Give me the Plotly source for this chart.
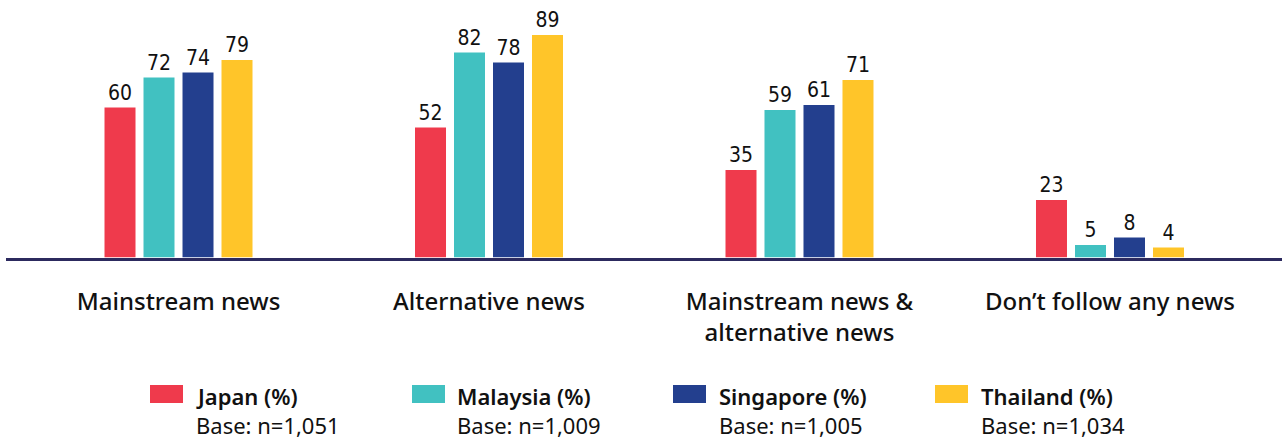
import plotly.graph_objects as go

# Survey categories (x axis) and share of respondents per country (%)
categories = ["Mainstream news", "Alternative news",
              "Mainstream news &<br>alternative news", "Don’t follow any news"]
countries = ["Japan (%)", "Malaysia (%)", "Singapore (%)", "Thailand (%)"]
bases = ["Base: n=1,051", "Base: n=1,009", "Base: n=1,005", "Base: n=1,034"]
japan = [60, 52, 35, 23]
malaysia = [72, 82, 59, 5]
singapore = [74, 78, 61, 8]
thailand = [79, 89, 71, 4]

series = [japan, malaysia, singapore, thailand]
colors = ["#EF3A4C", "#41C1C1", "#233F8E", "#FFC529"]

W, H = 1282, 439
AXIS_Y = 257.5  # pixel row of the baseline

fig = go.Figure()
for name, vals, col in zip(countries, series, colors):
    fig.add_trace(go.Bar(
        x=categories, y=vals, name=name, marker_color=col,
        marker_line_width=0,
        text=[str(v) for v in vals], textposition="outside",
        textfont=dict(family="Liberation Sans Narrow, DejaVu Sans Condensed, sans-serif",
                      size=21, color="#111111"),
        cliponaxis=False, showlegend=False,
    ))

# Custom legend: swatch + name line + base line per country
sw_x = [150, 412, 673, 935]
tx_x = [195, 456, 718, 980]
legend_font = dict(family="Noto Sans", size=22, color="#111111")
for sx, tx, name, base, col in zip(sw_x, tx_x, countries, bases, colors):
    fig.add_shape(type="rect", xref="paper", yref="paper",
                  x0=sx / W, x1=(sx + 33) / W,
                  y0=1 - 403 / H, y1=1 - 385 / H,
                  fillcolor=col, line_width=0)
    fig.add_annotation(xref="paper", yref="paper", x=tx / W, y=1 - 396 / H,
                       xanchor="left", yanchor="middle", align="left",
                       showarrow=False, borderpad=0,
                       text=f"<span style='font-weight:600'>{name}</span>",
                       font=legend_font)
    fig.add_annotation(xref="paper", yref="paper", x=tx / W, y=1 - 425 / H,
                       xanchor="left", yanchor="middle", align="left",
                       showarrow=False, borderpad=0,
                       text=base, font=legend_font)

fig.update_layout(
    width=W, height=H,
    margin=dict(l=0, r=0, t=0, b=0),
    paper_bgcolor="white", plot_bgcolor="white",
    barmode="group", bargap=0.4976, bargroupgap=0.205,
    xaxis=dict(domain=[6 / W, 1], range=[-0.5556, 3.554],
               showline=True, linecolor="#2C2A5E", linewidth=2.5,
               showgrid=False, zeroline=False,
               ticks="outside", ticklen=21, tickcolor="rgba(0,0,0,0)",
               tickfont=dict(family="Noto Sans", size=24, color="#111111",
                             weight=500)),
    yaxis=dict(domain=[1 - AXIS_Y / H, 1], range=[0, AXIS_Y / 2.5],
               visible=False, showgrid=False, zeroline=False),
)

fig.write_html("out.html")
